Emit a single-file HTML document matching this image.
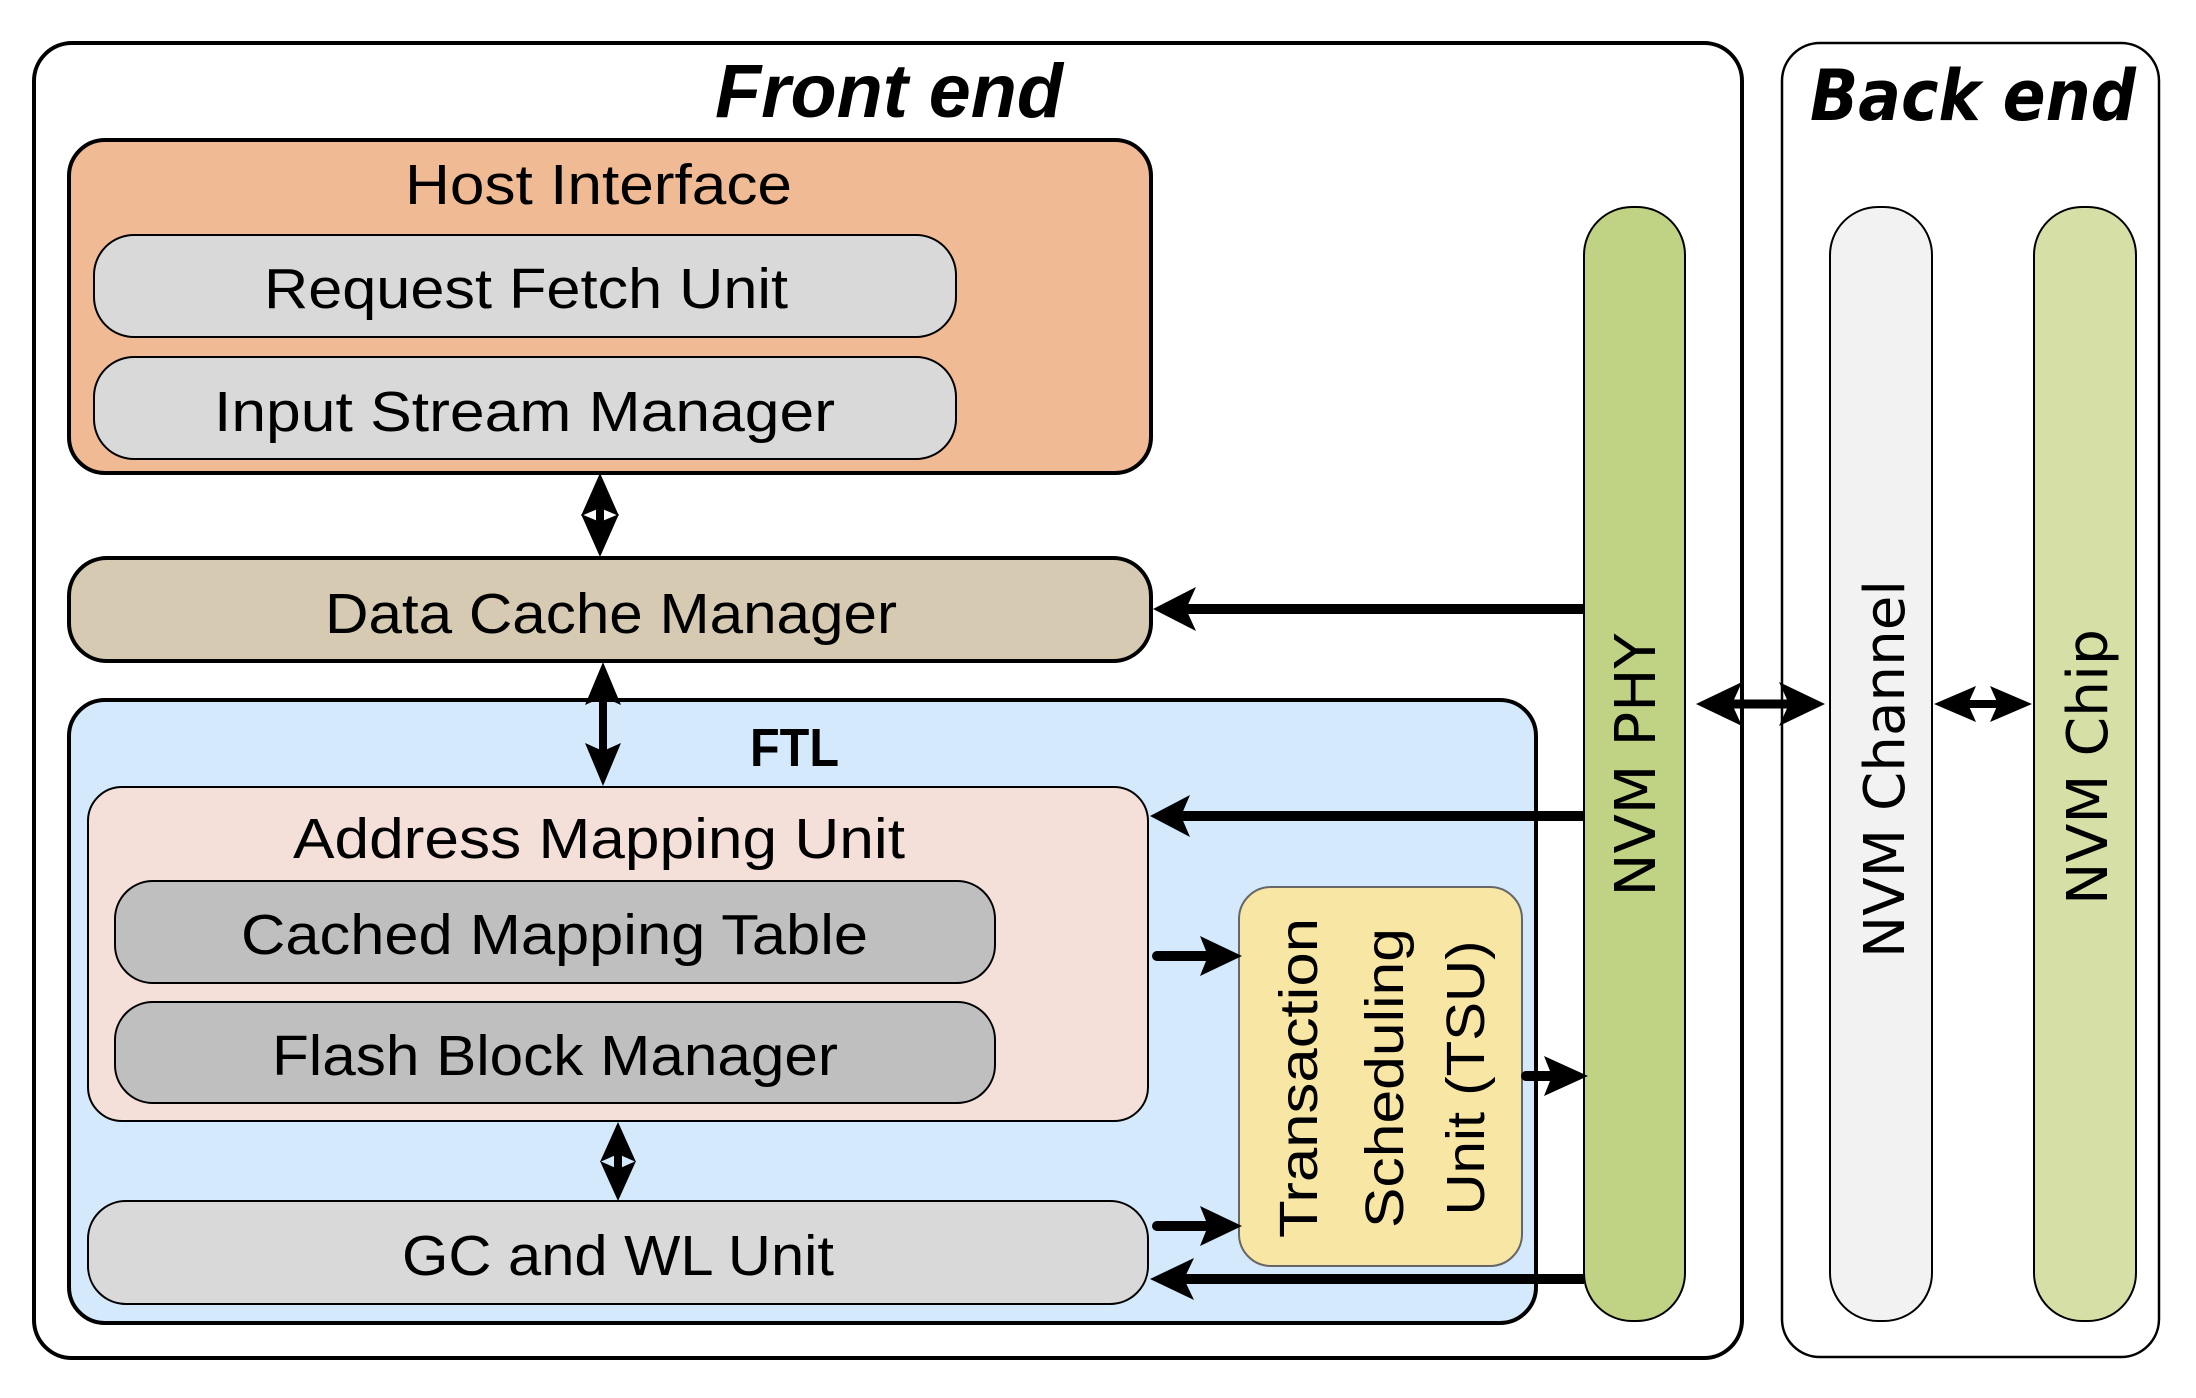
<!DOCTYPE html>
<html><head><meta charset="utf-8"><style>html,body{margin:0;padding:0;background:#fff}svg{display:block}</style></head>
<body>
<svg width="2196" height="1398" viewBox="0 0 2196 1398" xmlns="http://www.w3.org/2000/svg" font-family="Liberation Sans, sans-serif">
<!-- outer boxes -->
<rect x="34" y="43" width="1708" height="1315" rx="38" fill="#fff" stroke="#000" stroke-width="4"/>
<rect x="1782" y="43" width="377" height="1314" rx="38" fill="#fff" stroke="#000" stroke-width="2.5"/>
<text x="715" y="117" font-size="76" font-weight="bold" font-style="italic" textLength="348" lengthAdjust="spacingAndGlyphs">Front end</text>
<text x="1810" y="120" font-family="DejaVu Sans, sans-serif" font-size="70" font-weight="bold" font-style="italic" textLength="326" lengthAdjust="spacingAndGlyphs">Back end</text>

<!-- Host interface -->
<rect x="69" y="140" width="1082" height="333" rx="36" fill="#f0bb94" stroke="#000" stroke-width="4"/>
<text x="405" y="204" font-size="57" textLength="387" lengthAdjust="spacingAndGlyphs">Host Interface</text>
<rect x="94" y="235" width="862" height="102" rx="40" fill="#d9d9d9" stroke="#000" stroke-width="2"/>
<text x="264" y="308" font-size="57" textLength="524" lengthAdjust="spacingAndGlyphs">Request Fetch Unit</text>
<rect x="94" y="357" width="862" height="102" rx="40" fill="#d9d9d9" stroke="#000" stroke-width="2"/>
<text x="214" y="431" font-size="57" textLength="621" lengthAdjust="spacingAndGlyphs">Input Stream Manager</text>

<!-- DCM -->
<rect x="69" y="558" width="1082" height="103" rx="38" fill="#d6cab2" stroke="#000" stroke-width="4"/>
<text x="325" y="633" font-size="57" textLength="572" lengthAdjust="spacingAndGlyphs">Data Cache Manager</text>

<!-- FTL -->
<rect x="69" y="700" width="1467" height="623" rx="36" fill="#d4e9fc" stroke="#000" stroke-width="4"/>
<text x="750" y="766" font-size="54" font-weight="bold" textLength="89" lengthAdjust="spacingAndGlyphs">FTL</text>
<rect x="88" y="787" width="1060" height="334" rx="34" fill="#f4dfd9" stroke="#000" stroke-width="2"/>
<text x="293" y="858" font-size="57" textLength="612" lengthAdjust="spacingAndGlyphs">Address Mapping Unit</text>
<rect x="115" y="881" width="880" height="102" rx="38" fill="#bfbfbf" stroke="#000" stroke-width="2"/>
<text x="241" y="954" font-size="57" textLength="627" lengthAdjust="spacingAndGlyphs">Cached Mapping Table</text>
<rect x="115" y="1002" width="880" height="101" rx="38" fill="#bfbfbf" stroke="#000" stroke-width="2"/>
<text x="272" y="1075" font-size="57" textLength="566" lengthAdjust="spacingAndGlyphs">Flash Block Manager</text>
<rect x="88" y="1201" width="1060" height="103" rx="38" fill="#d9d9d9" stroke="#000" stroke-width="2"/>
<text x="402" y="1275" font-size="57" textLength="432" lengthAdjust="spacingAndGlyphs">GC and WL Unit</text>

<!-- TSU -->
<rect x="1239" y="887" width="283" height="379" rx="32" fill="#f8e6a5" stroke="#666" stroke-width="2"/>
<g font-size="54" text-anchor="middle">
<text transform="translate(1317,1078) rotate(-90)" textLength="320" lengthAdjust="spacingAndGlyphs">Transaction</text>
<text transform="translate(1403,1078) rotate(-90)" textLength="300" lengthAdjust="spacingAndGlyphs">Scheduling</text>
<text transform="translate(1484,1078) rotate(-90)" textLength="275" lengthAdjust="spacingAndGlyphs">Unit (TSU)</text>
</g>

<!-- NVM bars -->
<rect x="1584" y="207" width="101" height="1114" rx="48" fill="#c0d283" stroke="#000" stroke-width="2"/>
<rect x="1830" y="207" width="102" height="1114" rx="48" fill="#f2f2f2" stroke="#000" stroke-width="2"/>
<rect x="2034" y="207" width="102" height="1114" rx="48" fill="#d6e0a6" stroke="#000" stroke-width="2"/>
<g font-family="DejaVu Sans, sans-serif" font-size="56" text-anchor="middle">
<text transform="translate(1655,765) rotate(-90)" textLength="263" lengthAdjust="spacingAndGlyphs">NVM PHY</text>
<text transform="translate(1904,769) rotate(-90)" textLength="378" lengthAdjust="spacingAndGlyphs">NVM Channel</text>
<text transform="translate(2107,767) rotate(-90)" textLength="276" lengthAdjust="spacingAndGlyphs">NVM Chip</text>
</g>

<!-- arrows -->
<g fill="#000" stroke="#000">
<!-- vertical double host-dcm -->
<line x1="600" y1="500" x2="600" y2="532" stroke-width="8"/>
<polygon points="600,473 619,516 600,508 581,516" stroke="none"/>
<polygon points="600,557 619,514 600,522 581,514" stroke="none"/>
<!-- dcm-amu -->
<line x1="603" y1="690" x2="603" y2="760" stroke-width="8"/>
<polygon points="603,662 621,705 603,697 585,705" stroke="none"/>
<polygon points="603,786 621,743 603,751 585,743" stroke="none"/>
<!-- amu-gc -->
<line x1="618" y1="1150" x2="618" y2="1175" stroke-width="8"/>
<polygon points="618,1122 636,1162 618,1154 600,1162" stroke="none"/>
<polygon points="618,1201 636,1161 618,1169 600,1161" stroke="none"/>
<!-- PHY -> DCM -->
<line x1="1584" y1="609" x2="1185" y2="609" stroke-width="10"/>
<polygon points="1153,609 1196,587 1186,609 1196,631" stroke="none"/>
<!-- PHY -> AMU -->
<line x1="1584" y1="816" x2="1180" y2="816" stroke-width="10"/>
<polygon points="1150,816 1190,795 1181,816 1190,837" stroke="none"/>
<!-- PHY -> GC -->
<line x1="1584" y1="1279" x2="1182" y2="1279" stroke-width="10"/>
<polygon points="1150,1279 1194,1258 1184,1279 1194,1300" stroke="none"/>
<!-- AMU -> TSU -->
<line x1="1157" y1="956" x2="1215" y2="956" stroke-width="10" stroke-linecap="round"/>
<polygon points="1242,956 1200,936 1208,956 1200,976" stroke="none"/>
<!-- GC -> TSU -->
<line x1="1157" y1="1226" x2="1215" y2="1226" stroke-width="10" stroke-linecap="round"/>
<polygon points="1242,1226 1200,1206 1208,1226 1200,1246" stroke="none"/>
<!-- TSU -> PHY -->
<line x1="1526" y1="1076" x2="1560" y2="1076" stroke-width="10" stroke-linecap="round"/>
<polygon points="1588,1076 1544,1056 1552,1076 1544,1096" stroke="none"/>
<!-- PHY <-> Channel -->
<line x1="1730" y1="704" x2="1790" y2="704" stroke-width="9"/>
<polygon points="1696,704 1742,682 1732,704 1742,726" stroke="none"/>
<polygon points="1825,704 1779,682 1789,704 1779,726" stroke="none"/>
<!-- Channel <-> Chip -->
<line x1="1960" y1="704" x2="2005" y2="704" stroke-width="8"/>
<polygon points="1934,704 1976,686 1968,704 1976,722" stroke="none"/>
<polygon points="2032,704 1990,686 1998,704 1990,722" stroke="none"/>
</g>
</svg>
</body></html>
